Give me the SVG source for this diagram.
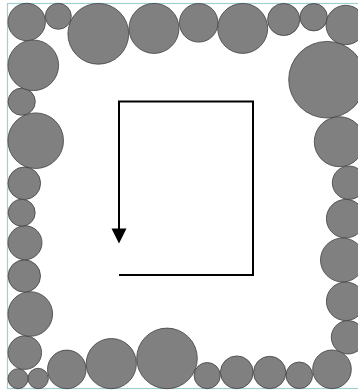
<svg xmlns="http://www.w3.org/2000/svg" width="358" height="391" viewBox="0 0 358 391">
<style>
.c{fill:#808080;stroke:#404040;stroke-width:0.8}
.edge{fill:none;stroke:#000;stroke-width:2}
</style>
<defs>
<marker id="ah" markerUnits="userSpaceOnUse" markerWidth="16" markerHeight="16" refX="7.5" refY="0" orient="auto" viewBox="0 -8 16 16" overflow="visible">
<path d="M0,-7.5 L15,0 L0,7.5 Z" fill="#000"/>
</marker>
</defs>
<rect x="0" y="0" width="358" height="391" fill="#fff"/>
<rect x="7.5" y="3.5" width="358" height="385" fill="none" stroke="#9fd0cf" stroke-width="1.2"/>
<g id="nodes">
<circle id="n1" class="c" cx="26.7" cy="22" r="18.7"/>
<circle id="n2" class="c" cx="58.3" cy="16.3" r="13"/>
<circle id="n3" class="c" cx="98.3" cy="33.8" r="30.4"/>
<circle id="n4" class="c" cx="154" cy="28.4" r="25"/>
<circle id="n5" class="c" cx="198.7" cy="22.8" r="19.3"/>
<circle id="n6" class="c" cx="242.7" cy="28.4" r="25"/>
<circle id="n7" class="c" cx="283.7" cy="19.5" r="16.1"/>
<circle id="n8" class="c" cx="313.7" cy="17.2" r="13.7"/>
<circle id="n9" class="c" cx="345.7" cy="25" r="19.7"/>
<circle id="n10" class="c" cx="327" cy="79.7" r="38.3"/>
<circle id="n11" class="c" cx="339.3" cy="141.7" r="25"/>
<circle id="n12" class="c" cx="349" cy="182.7" r="16.7"/>
<circle id="n13" class="c" cx="345.7" cy="218.7" r="19.3"/>
<circle id="n14" class="c" cx="342.5" cy="260" r="22"/>
<circle id="n15" class="c" cx="345.7" cy="301.3" r="19.3"/>
<circle id="n16" class="c" cx="348" cy="337.3" r="16.7"/>
<circle id="n17" class="c" cx="332" cy="369.3" r="19.3"/>
<circle id="n18" class="c" cx="299.3" cy="375.3" r="13.3"/>
<circle id="n19" class="c" cx="269.7" cy="372.5" r="16.2"/>
<circle id="n20" class="c" cx="236.8" cy="372.3" r="16.4"/>
<circle id="n21" class="c" cx="207.2" cy="375.6" r="13.1"/>
<circle id="n22" class="c" cx="167" cy="358.4" r="30.3"/>
<circle id="n23" class="c" cx="111.3" cy="363.6" r="25.1"/>
<circle id="n24" class="c" cx="66.8" cy="369.4" r="19.3"/>
<circle id="n25" class="c" cx="38.2" cy="378.5" r="10.2"/>
<circle id="n26" class="c" cx="18" cy="378.7" r="10"/>
<circle id="n27" class="c" cx="24.8" cy="352.6" r="16.8"/>
<circle id="n28" class="c" cx="30.3" cy="314" r="22.3"/>
<circle id="n29" class="c" cx="24.3" cy="276" r="16.2"/>
<circle id="n30" class="c" cx="25" cy="242.7" r="17"/>
<circle id="n31" class="c" cx="21.7" cy="212.7" r="13.5"/>
<circle id="n32" class="c" cx="24.3" cy="183.3" r="16.3"/>
<circle id="n33" class="c" cx="35.7" cy="140.7" r="27.8"/>
<circle id="n34" class="c" cx="21.7" cy="101.7" r="13.6"/>
<circle id="n35" class="c" cx="33.3" cy="65.3" r="25.3"/>
</g>
<g id="connectors">
<path class="edge" d="M119,275 H253 V101.5 H119 V236" marker-end="url(#ah)"/>
</g>
</svg>
